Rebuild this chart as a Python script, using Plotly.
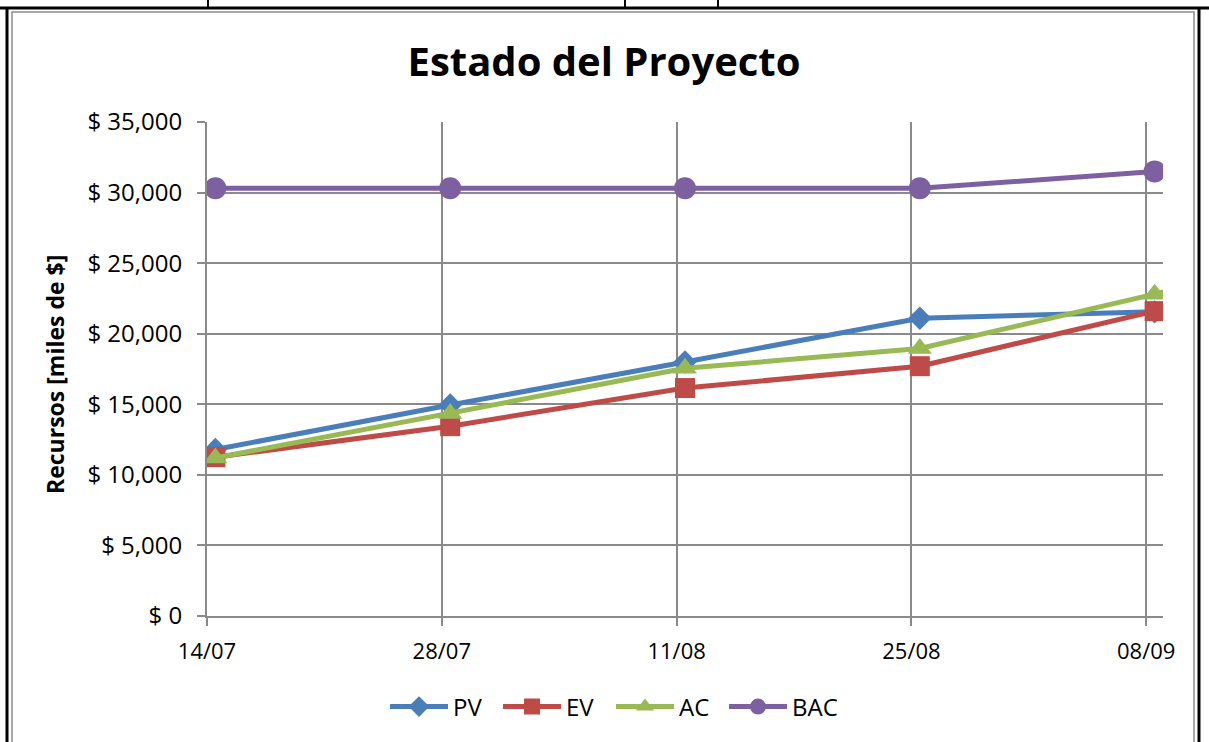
import plotly.graph_objects as go
import pandas as pd

# ---- data ----
dates = ["2011-07-14", "2011-07-28", "2011-08-11", "2011-08-25", "2011-09-08", "2011-09-22"]
pv = [11800, 14950, 18000, 21100, 21550, 21700]
ev = [11250, 13450, 16150, 17700, 21600, 27500]
ac = [11200, 14350, 17550, 18950, 22800, 27200]
bac = [30300, 30300, 30300, 30300, 31500, 31500]
series_names = ["PV", "EV", "AC", "BAC"]

# Excel date axis "between tick marks": points sit at the middle of their day
x = pd.to_datetime(dates) + pd.Timedelta(hours=12)

W, H = 1209, 742
L, R, T, B = 207, 1163, 122, 616


def px(v):
    return (v - L) / (R - L)


def py(v):
    return (B - v) / (B - T)


FONT = "Open Sans"
GRID = "#8a8a8a"

fig = go.Figure()
styles = [
    ("#4A7EBB", "diamond", 18),
    ("#BE4B48", "square", 20),
    ("#98B954", "triangle-up", 21),
    ("#7D60A0", "circle", 22),
]
for name, vals, (col, sym, sz) in zip(series_names, [pv, ev, ac, bac], styles):
    fig.add_trace(go.Scatter(
        x=x, y=vals, name=name, mode="lines+markers",
        line=dict(color=col, width=5),
        marker=dict(symbol=sym, size=sz, color=col),
    ))

shapes = []
# surrounding table / frame lines
shapes.append(dict(type="line", xref="paper", yref="paper", x0=px(0), x1=px(W), y0=py(8), y1=py(8),
                   line=dict(color="black", width=3)))
for xv in [208, 625, 718]:
    shapes.append(dict(type="line", xref="paper", yref="paper", x0=px(xv), x1=px(xv), y0=py(0), y1=py(8),
                       line=dict(color="black", width=2)))
for xv in [7, 1199]:
    shapes.append(dict(type="line", xref="paper", yref="paper", x0=px(xv), x1=px(xv), y0=py(8), y1=py(H + 5),
                       line=dict(color="black", width=3)))
shapes.append(dict(type="rect", xref="paper", yref="paper", x0=px(12), x1=px(1194), y0=py(12), y1=py(H + 5),
                   line=dict(color="#8c8c8c", width=1.5)))

fig.update_layout(
    width=W, height=H,
    margin=dict(l=L, r=W - R, t=T, b=H - B),
    paper_bgcolor="white", plot_bgcolor="white",
    font=dict(family=FONT, size=23, color="black"),
    title=dict(text="<b>Estado del Proyecto</b>", x=px(604), xref="paper", xanchor="center",
               y=1 - 62 / H, yanchor="middle", font=dict(family=FONT, size=40, color="black")),
    showlegend=True,
    legend=dict(orientation="h", x=px(611), xanchor="center", y=py(707), yanchor="middle",
                font=dict(family=FONT, size=24), itemwidth=58, entrywidth=40,
                bgcolor="rgba(0,0,0,0)"),
    shapes=shapes,
    annotations=[dict(text="<b>Recursos [miles de $]</b>", textangle=-90, xref="paper", yref="paper",
                      x=px(55), y=py(375), xanchor="center", yanchor="middle", showarrow=False,
                      font=dict(family=FONT, size=23, color="black"))],
)

fig.update_xaxes(
    type="date", range=["2011-07-14", "2011-09-09"],
    tick0="2011-07-14", dtick=14 * 86400000, tickformat="%d/%m",
    showgrid=True, gridcolor=GRID, gridwidth=2,
    showline=True, linecolor=GRID, linewidth=2,
    ticks="outside", ticklen=8, tickcolor=GRID, tickwidth=2,
    zeroline=False, tickfont=dict(family=FONT, size=22), ticklabelstandoff=7,
)
fig.update_yaxes(
    range=[0, 35000], dtick=5000, tick0=0, tickprefix="$ ", tickformat=",",
    showgrid=True, gridcolor=GRID, gridwidth=2,
    showline=True, linecolor=GRID, linewidth=2,
    ticks="outside", ticklen=8, tickcolor=GRID, tickwidth=2,
    zeroline=False, tickfont=dict(family=FONT, size=24), ticklabelstandoff=10,
)

fig.write_html("out.html", config={"displayModeBar": False},
               post_script="document.body.style.margin='0';")
